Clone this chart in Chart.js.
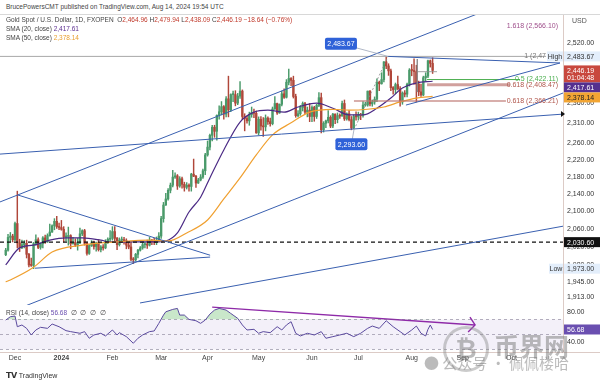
<!DOCTYPE html>
<html>
<head>
<meta charset="utf-8">
<script src="https://cdn.jsdelivr.net/npm/chart.js@4.4.1/dist/chart.umd.min.js"></script>
<style>
  body { margin: 0; background: #fff; font-family: "Liberation Sans", Arial, sans-serif; }
  #wrap { position: relative; width: 600px; height: 383px; overflow: hidden; }
  canvas { position: absolute; left: 0; }
  .hd { position: absolute; left: 6px; font-size: 6.5px; color: #444; white-space: nowrap; line-height: 8px; }
  .wm { position: absolute; color: rgba(120,120,120,0.5); white-space: nowrap; }
</style>
</head>
<body>
<div id="wrap">
  <canvas id="price" width="600" height="290" style="top:15px"></canvas>
  <canvas id="rsi" width="600" height="62" style="top:305px"></canvas>
  <div class="hd" style="top:3px">BrucePowersCMT published on TradingView.com, Aug 14, 2024 19:54 UTC</div>
  <div style="position:absolute;left:0;top:14px;width:600px;height:1px;background:#d8d8d8"></div>
  <div class="hd" style="top:16px">Gold Spot / U.S. Dollar, 1D, FXOPEN&nbsp; O<span style="color:#c0392b">2,464.96</span> H<span style="color:#c0392b">2,479.94</span> L<span style="color:#c0392b">2,438.09</span> C<span style="color:#c0392b">2,446.19 −18.64 (−0.76%)</span></div>
  <div class="hd" style="top:25px">SMA (20, close) <span style="color:#5b2c8f">2,417.61</span></div>
  <div class="hd" style="top:34px">SMA (50, close) <span style="color:#e8a030">2,378.14</span></div>
  <div class="hd" style="top:309px">RSI (14, close) <span style="color:#6a4fb0">56.68</span> &nbsp;∅ &nbsp;∅ &nbsp;∅ &nbsp;∅</div>
  <div class="hd" style="top:372px;font-size:7px;color:#333"><b style="font-size:8px">𝗧𝗩</b> TradingView</div>
  <div class="wm" style="left:443px;top:326px;width:40px;height:40px;border:3px solid rgba(140,140,140,0.45);border-radius:50%;font-size:26px;line-height:40px;text-align:center;font-weight:bold">₿</div>
  <div class="wm" style="left:494px;top:327px;font-size:25px;font-weight:bold;font-family:'Noto Sans CJK SC'">币界网</div>
  <div class="wm" style="left:424px;top:352px;font-size:15px;font-family:'Noto Sans CJK SC'">● 公众号 · 佩佩楼哈</div>
</div>
<script>
// ---- data (trading day index 0 = 2023-11-27) ----
// [open, high, low, close]
const ohlc = [
  // Nov 27-30
  [2003,2017,2001,2013],[2013,2048,2011,2041],[2041,2052,2031,2044],[2044,2048,2031,2036],
  // Dec
  [2036,2075,2034,2072],[2072,2146,2018,2029],[2029,2037,2010,2019],[2019,2035,2016,2025],[2025,2034,2018,2028],
  [2028,2035,1996,2004],[2004,2006,1977,1981],[1981,1996,1978,1980],[1980,2030,1973,2027],[2027,2047,2024,2036],
  [2036,2040,2016,2019],[2019,2029,2015,2027],[2027,2043,2018,2040],[2040,2046,2028,2031],[2031,2049,2030,2045],
  [2045,2071,2044,2053],[2053,2069,2052,2067],[2067,2083,2058,2077],[2077,2088,2061,2065],[2065,2073,2058,2063],
  // Jan
  [2063,2079,2057,2059],[2059,2065,2031,2042],[2042,2051,2033,2043],[2043,2064,2024,2045],[2045,2047,2016,2027],
  [2027,2041,2026,2030],[2030,2038,2021,2024],[2024,2039,2013,2029],[2029,2062,2027,2049],[2049,2058,2045,2056],
  [2056,2059,2024,2028],[2028,2031,2002,2006],[2006,2025,2004,2023],[2023,2034,2021,2029],[2029,2033,2015,2021],
  [2021,2031,2011,2029],[2029,2036,2011,2014],[2014,2023,2009,2020],[2020,2025,2013,2018],[2018,2036,2016,2032],
  [2032,2040,2028,2037],[2037,2056,2031,2039],
  // Feb
  [2039,2065,2035,2054],[2054,2065,2032,2039],[2039,2041,2014,2025],[2025,2040,2022,2035],[2035,2042,2030,2035],
  [2035,2041,2026,2034],[2034,2038,2016,2024],[2024,2031,2016,2020],[2020,2031,1990,1993],[1993,1997,1984,1992],
  [1992,2006,1990,2004],[2004,2015,1996,2013],[2013,2021,2011,2018],[2018,2031,2015,2025],[2025,2030,2018,2025],
  [2025,2035,2017,2024],[2024,2041,2022,2035],[2035,2037,2025,2031],[2031,2039,2025,2030],[2030,2042,2025,2034],
  [2034,2052,2031,2044],
  // Mar
  [2044,2088,2039,2083],[2083,2120,2075,2114],[2114,2141,2113,2128],[2128,2152,2125,2148],[2148,2165,2142,2160],
  [2160,2195,2156,2179],[2179,2189,2176,2182],[2182,2185,2150,2158],[2158,2180,2155,2175],[2175,2179,2153,2162],
  [2162,2167,2146,2155],[2155,2166,2151,2160],[2160,2163,2146,2157],[2157,2188,2146,2186],[2186,2222,2180,2181],
  [2181,2183,2155,2165],[2165,2176,2164,2172],[2172,2185,2170,2179],[2179,2198,2176,2194],[2194,2236,2185,2232],
  // Apr
  [2232,2266,2229,2251],[2251,2283,2244,2280],[2280,2305,2266,2300],[2300,2305,2275,2290],[2290,2331,2268,2330],
  [2330,2354,2320,2339],[2339,2365,2331,2352],[2352,2355,2320,2333],[2333,2378,2326,2372],[2372,2431,2326,2344],
  [2344,2385,2339,2383],[2383,2392,2365,2383],[2383,2393,2354,2361],[2361,2386,2357,2379],[2379,2417,2373,2392],
  [2392,2395,2320,2327],[2327,2334,2291,2322],[2322,2328,2310,2316],[2316,2338,2305,2332],[2332,2351,2325,2337],
  [2337,2346,2324,2335],[2335,2341,2285,2286],
  // May
  [2286,2326,2281,2320],[2320,2327,2293,2303],[2303,2324,2277,2301],[2301,2331,2291,2323],[2323,2326,2307,2314],
  [2314,2323,2303,2309],[2309,2351,2306,2346],[2346,2378,2345,2360],[2360,2361,2332,2336],[2336,2359,2335,2358],
  [2358,2392,2354,2385],[2385,2398,2373,2376],[2376,2422,2374,2415],[2415,2450,2408,2425],[2425,2427,2406,2420],
  [2420,2431,2374,2378],[2378,2384,2325,2329],[2329,2342,2326,2334],[2334,2355,2330,2350],[2350,2364,2341,2360],
  [2360,2363,2334,2338],[2338,2351,2326,2343],[2343,2360,2314,2327],
  // Jun
  [2327,2354,2314,2350],[2350,2353,2315,2327],[2327,2358,2322,2355],[2355,2388,2352,2375],[2375,2387,2286,2294],
  [2294,2314,2288,2310],[2310,2318,2299,2316],[2316,2342,2311,2325],[2325,2329,2299,2303],[2303,2335,2299,2333],
  [2333,2334,2309,2319],[2319,2336,2311,2329],[2329,2334,2322,2328],[2328,2366,2328,2360],[2360,2369,2317,2321],
  [2321,2336,2318,2334],[2334,2342,2316,2319],[2319,2327,2293.6,2298],[2298,2331,2297,2327],[2327,2339,2318,2326],
  // Jul
  [2326,2338,2318,2332],[2332,2335,2319,2330],[2330,2365,2325,2356],[2356,2363,2353,2356],[2356,2392,2353,2392],
  [2392,2393,2354,2359],[2359,2369,2353,2364],[2364,2377,2358,2371],[2371,2424,2365,2415],[2415,2418,2393,2411],
  [2411,2440,2410,2422],[2422,2470,2416,2469],[2469,2483.67,2451,2458],[2458,2464,2433,2445],[2445,2450,2393,2401],
  [2401,2404,2384,2396],[2396,2413,2385,2409],[2409,2431,2395,2398],[2398,2404,2353,2364],[2364,2390,2358,2387],
  [2387,2393,2377,2384],[2384,2413,2377,2410],[2410,2451,2405,2447],
  // Aug
  [2447,2462,2432,2446],[2446,2477,2410,2443],[2443,2460,2364,2410],[2410,2418,2380,2390],[2390,2410,2378,2382],
  [2382,2431,2380,2427],[2427,2440,2418,2431],[2431,2474,2427,2472],[2472,2474,2455,2465],[2464.96,2479.94,2438.09,2446.19]
];

const sma20Idx = [0,6,12,19,26,33,41,45,55,65,69,74,79,84,88,94,101,107,113,120,126,134,141,148,154,160,166,171,177,184];
const sma20Val = [1981,2018,2024,2035,2040,2040,2035,2031,2031,2031,2033,2051,2098,2132,2177,2244,2313,2338,2343,2338,2351,2361,2348,2331,2331,2348,2374,2400,2413,2417.61];
const sma50Idx = [0,2,12,20,33,48,62,70,78,87,94,101,108,115,123,131,141,148,163,170,177,184];
const sma50Val = [1945,1949,1976,2009,2024,2031,2035,2033,2051,2080,2128,2177,2232,2281,2311,2338,2345,2343,2351,2364,2374,2378.14];

const rsiIdx = [0,2,4,5,7,9,11,13,15,18,20,23,26,28,32,34,36,38,41,43,46,48,49,52,55,57,59,62,64,66,68,69,72,74,75,77,79,82,84,86,88,90,92,95,97,98,100,102,104,107,109,111,114,117,119,121,123,125,127,130,133,136,138,141,144,147,150,153,156,158,161,164,167,170,172,175,177,179,181,182,183,184];
const rsiVal = [69.3,73.8,74.7,60.4,62.7,58.2,49.3,56,59.6,58.2,64,60.4,55.1,53.8,51.6,53.8,44.9,49.3,51.6,48,56,49.3,52.4,47.1,38.2,44.9,49.3,53.8,54.7,64.9,76,80.4,83.6,84.9,76,76,70.2,68.4,64.9,69.3,77.3,82.7,84.9,82.7,78.2,76,71.6,62.7,56,56.9,51.6,53.8,52.4,60.4,56,62.7,67.1,51.6,48,51.6,49.3,53.8,44.9,47.1,49.3,51.6,47.1,51.6,58.2,61.3,58.2,68.4,60.4,53.8,49.3,56,61.3,51.6,48,56.9,62.7,56.68];

// trend lines drawn on price pane: [idx1, price1, idx2, price2]
const trendLines = [
  [-2.5, 2121, 213, 2626],
  [6.2, 1890.6, 240.2, 2387],
  [57.9, 1901, 240.2, 2066],
  [-2.5, 2234, 240.2, 2333],
  [5.3, 2137, 88.1, 2002],
  [12.6, 1974, 88.1, 1998],
  [164.8, 2483.67, 238.9, 2466],
  [172.5, 2356, 238.9, 2466]
];
// thin grey drawing lines: [idx1, price1, idx2, price2, dashed]
const greyLines = [
  [150.1, 2293.6, 164.8, 2483.67, true],
  [177.4, 2476.6, 177.4, 2389.6, false],
  [177.4, 2442.8, 185.9, 2442.8, false]
];
// fib / level lines: [idx1, idx2, price, colour, width]
const levelLines = [
  [-2.5, 232.9, 2483.67, '#a8a8a8', 1],
  [181.6, 221.7, 2422.11, '#4caf50', 1],
  [181.6, 217.4, 2408.47, 'rgba(190,120,115,0.7)', 3],
  [150.1, 215.6, 2366.21, 'rgba(190,120,115,0.8)', 1.5]
];
const fibTexts = [
  [2566.10, '1.618 (2,566.10)', '#a0508c'],
  [2422.11, '0.5 (2,422.11)', '#4caf50'],
  [2408.47, '0.618 (2,408.47)', '#b0554b'],
  [2366.21, '0.618 (2,366.21)', '#b0554b']
];
const priceTicks = [2520, 2360, 2310, 2260, 2220, 2180, 2140, 2100, 2060, 2020, 1980, 1945, 1913];
const priceTags = [
  { v: 2483.67, text: '2,483.67', bg: '#e3eefb', fg: '#333' },
  { v: 2446.19, text: '2,446.19', sub: '01:04:48', bg: '#c8483e', fg: '#fff' },
  { v: 2417.61, text: '2,417.61', bg: '#55308f', fg: '#fff' },
  { v: 2378.14, text: '2,378.14', bg: '#f2a533', fg: '#222' },
  { v: 2030.60, text: '2,030.60', bg: '#111', fg: '#fff' },
  { v: 1973.00, text: '1,973.00', bg: '#e3eefb', fg: '#333' }
];
// callouts: box centre [idx, price], target [idx, price]
const callouts = [
  { text: '2,483.67', at: [144.5, 2518], to: [164.8, 2483.67] },
  { text: '2,293.60', at: [149, 2258], to: [150.1, 2293.6] }
];
const monthIdx = [4, 24, 46, 67, 87, 109, 132, 152, 175, 197, 218];
const monthLabels = ['Dec', '2024', 'Feb', 'Mar', 'Apr', 'May', 'Jun', 'Jul', 'Aug', 'Sep', 'Oct'];
const rsiTrend = [[89, 86.7], [202.3, 62.7]];
const rsiArrow = [[200.1, 73.3], [202.3, 62.7], [199.3, 53.3]];

const X_MIN = -2.46, X_MAX = 240.2;
const UP = '#4a9a6a', DOWN = '#b0473a', BLUE = '#3a60b0';
const FONT = '7px "Liberation Sans", Arial, sans-serif';
const fmt = v => v.toLocaleString('en-US', { minimumFractionDigits: 2, maximumFractionDigits: 2 });
const noPad = s => { s.paddingTop = 0; s.paddingBottom = 0; s.paddingLeft = 0; s.paddingRight = 0; };

const candleColors = ohlc.map(d => d[3] >= d[0] ? UP : DOWN);
const lineDs = (pts, color, width, extra) => Object.assign({
  type: 'line', data: pts, borderColor: color, borderWidth: width, pointRadius: 0, fill: false
}, extra || {});

const datasets = [];
greyLines.forEach(g => datasets.push(lineDs([{ x: g[0], y: g[1] }, { x: g[2], y: g[3] }], '#8a8a8a', 0.8, g[4] ? { borderDash: [2, 2] } : {})));
trendLines.forEach(t => datasets.push(lineDs([{ x: t[0], y: t[1] }, { x: t[2], y: t[3] }], BLUE, 1)));
levelLines.forEach(l => datasets.push(lineDs([{ x: l[0], y: l[2] }, { x: l[1], y: l[2] }], l[3], l[4])));
datasets.push(lineDs([{ x: X_MIN, y: 2030.60 }, { x: X_MAX, y: 2030.60 }], '#111', 1.2, { borderDash: [4, 3] }));
datasets.push(lineDs(sma50Idx.map((x, i) => ({ x, y: sma50Val[i] })), '#f0a030', 1.2, { cubicInterpolationMode: 'monotone' }));
datasets.push(lineDs(sma20Idx.map((x, i) => ({ x, y: sma20Val[i] })), '#4b2a85', 1.2, { cubicInterpolationMode: 'monotone' }));
datasets.push({
  type: 'bar', data: ohlc.map((d, i) => ({ x: i, y: [d[2], d[1]] })),
  backgroundColor: candleColors, barThickness: 0.8, grouped: false
});
datasets.push({
  type: 'bar', data: ohlc.map((d, i) => ({ x: i, y: [Math.min(d[0], d[3]), Math.max(d[0], d[3])] })),
  backgroundColor: candleColors, barThickness: 1.7, minBarLength: 1, grouped: false
});

const pricePlugin = {
  id: 'priceDecor',
  afterDatasetsDraw(chart) {
    const ctx = chart.ctx, xs = chart.scales.x, ys = chart.scales.y;
    ctx.save();
    ctx.font = FONT;
    ctx.textBaseline = 'middle';
    // fib texts
    ctx.textAlign = 'right';
    fibTexts.forEach(f => { ctx.fillStyle = f[2]; ctx.fillText(f[1], 558, ys.getPixelForValue(f[0])); });
    ctx.fillStyle = '#777';
    ctx.fillText('1 (2,47', 546, ys.getPixelForValue(2483.67));
    // callouts
    callouts.forEach(c => {
      const bx = xs.getPixelForValue(c.at[0]), by = ys.getPixelForValue(c.at[1]);
      const tx = xs.getPixelForValue(c.to[0]), ty = ys.getPixelForValue(c.to[1]);
      ctx.strokeStyle = '#9aa4b8'; ctx.lineWidth = 0.8;
      ctx.beginPath(); ctx.moveTo(bx, by); ctx.lineTo(tx, ty); ctx.stroke();
      ctx.fillStyle = '#2f62d8';
      ctx.beginPath(); ctx.roundRect(bx - 16, by - 6, 32, 12, 2); ctx.fill();
      ctx.fillStyle = '#fff'; ctx.textAlign = 'center';
      ctx.fillText(c.text, bx, by + 0.5);
    });
    // High / Low tags
    ctx.textAlign = 'center';
    [[2483.67, 'High', 547], [1973.00, 'Low', 549]].forEach(t => {
      const y = ys.getPixelForValue(t[0]);
      ctx.fillStyle = '#e3eefb'; ctx.fillRect(t[2], y - 5, 563 - t[2], 10);
      ctx.fillStyle = '#333'; ctx.fillText(t[1], (t[2] + 563) / 2, y + 0.5);
    });
    // axis tags
    let lastBottom = -99;
    priceTags.forEach(t => {
      const y = ys.getPixelForValue(t.v);
      const h = t.sub ? 17 : 10;
      let top = y - 5;
      if (top < lastBottom) top = lastBottom;
      lastBottom = top + h;
      ctx.fillStyle = t.bg; ctx.fillRect(564, top, 36, h);
      ctx.fillStyle = t.fg; ctx.textAlign = 'left';
      ctx.fillText(t.text, 567, top + 5.5);
      if (t.sub) ctx.fillText(t.sub, 567, top + 12.5);
    });
    // marker where the long lower line meets the scale
    const my = ys.getPixelForValue(2333);
    ctx.fillStyle = '#111';
    ctx.beginPath(); ctx.moveTo(561, my - 3); ctx.lineTo(565, my); ctx.lineTo(561, my + 3); ctx.fill();
    ctx.fillStyle = '#555'; ctx.textAlign = 'left';
    ctx.fillText('USD', 572, 6);
    ctx.restore();
  }
};

new Chart(document.getElementById('price'), {
  type: 'bar',
  data: { datasets },
  options: {
    responsive: false, animation: false, devicePixelRatio: 1,
    layout: { padding: 0 },
    plugins: { legend: { display: false }, tooltip: { enabled: false } },
    scales: {
      x: { type: 'linear', min: X_MIN, max: X_MAX, offset: false, display: false },
      y: {
        type: 'logarithmic', position: 'right', min: 1896.8, max: 2597.7,
        afterBuildTicks: s => { s.ticks = priceTicks.map(v => ({ value: v })); },
        afterFit: s => { s.width = 37; noPad(s); },
        grid: { display: false, drawTicks: false },
        border: { display: true, color: '#dccbc6' },
        ticks: { font: { size: 7, family: '"Liberation Sans", Arial' }, color: '#333', padding: 4, callback: v => fmt(v) }
      }
    }
  },
  plugins: [pricePlugin]
});

const rsiPlugin = {
  id: 'rsiDecor',
  beforeDatasetsDraw(chart) {
    const ctx = chart.ctx, ys = chart.scales.y, a = chart.chartArea;
    const y70 = ys.getPixelForValue(70), y30 = ys.getPixelForValue(30), y50 = ys.getPixelForValue(50);
    ctx.save();
    ctx.fillStyle = 'rgba(126,87,194,0.09)';
    ctx.fillRect(a.left, y70, a.right - a.left, y30 - y70);
    ctx.strokeStyle = '#a09cae'; ctx.lineWidth = 0.8; ctx.setLineDash([3, 3]);
    [y70, y50, y30].forEach(y => { ctx.beginPath(); ctx.moveTo(a.left, y); ctx.lineTo(a.right, y); ctx.stroke(); });
    ctx.restore();
  },
  afterDraw(chart) {
    const ctx = chart.ctx, ys = chart.scales.y, a = chart.chartArea;
    ctx.save();
    ctx.strokeStyle = '#dccbc6'; ctx.lineWidth = 1;
    ctx.beginPath(); ctx.moveTo(0, a.bottom + 0.5); ctx.lineTo(600, a.bottom + 0.5); ctx.stroke();
    const y = ys.getPixelForValue(56.68);
    ctx.fillStyle = '#6a4fb0'; ctx.fillRect(564, y - 5, 36, 10);
    ctx.fillStyle = '#fff'; ctx.font = FONT; ctx.textBaseline = 'middle';
    ctx.fillText('56.68', 567, y + 0.5);
    ctx.restore();
  }
};

new Chart(document.getElementById('rsi'), {
  type: 'line',
  data: {
    datasets: [
      {
        data: rsiIdx.map((x, i) => ({ x, y: rsiVal[i] })), borderColor: '#5b4a9e', borderWidth: 1, pointRadius: 0,
        fill: { target: { value: 70 }, above: 'rgba(76,175,80,0.3)', below: 'rgba(0,0,0,0)' }
      },
      { data: rsiTrend.map(p => ({ x: p[0], y: p[1] })), borderColor: '#8e2aa8', borderWidth: 1.4, pointRadius: 0 },
      { data: rsiArrow.map(p => ({ x: p[0], y: p[1] })), borderColor: '#8e2aa8', borderWidth: 1.4, pointRadius: 0 }
    ]
  },
  options: {
    responsive: false, animation: false, devicePixelRatio: 1,
    layout: { padding: 0 },
    plugins: { legend: { display: false }, tooltip: { enabled: false } },
    scales: {
      x: {
        type: 'linear', min: X_MIN, max: X_MAX, offset: false,
        afterBuildTicks: s => { s.ticks = monthIdx.map(v => ({ value: v })); },
        afterFit: s => { s.height = 15; noPad(s); },
        grid: { display: false, drawTicks: false }, border: { display: false },
        ticks: {
          autoSkip: false, maxRotation: 0, padding: 2, color: '#444',
          font: c => ({ size: 7, family: '"Liberation Sans", Arial', weight: c.index === 1 ? 'bold' : 'normal' }),
          callback: (v, i) => monthLabels[i]
        }
      },
      y: {
        position: 'right', min: 26.5, max: 89.5,
        afterBuildTicks: s => { s.ticks = [80, 40].map(v => ({ value: v })); },
        afterFit: s => { s.width = 37; noPad(s); },
        grid: { display: false, drawTicks: false },
        border: { display: true, color: '#dccbc6' },
        ticks: { font: { size: 7, family: '"Liberation Sans", Arial' }, color: '#333', padding: 4, callback: v => fmt(v) }
      }
    }
  },
  plugins: [rsiPlugin]
});
</script>
</body>
</html>
